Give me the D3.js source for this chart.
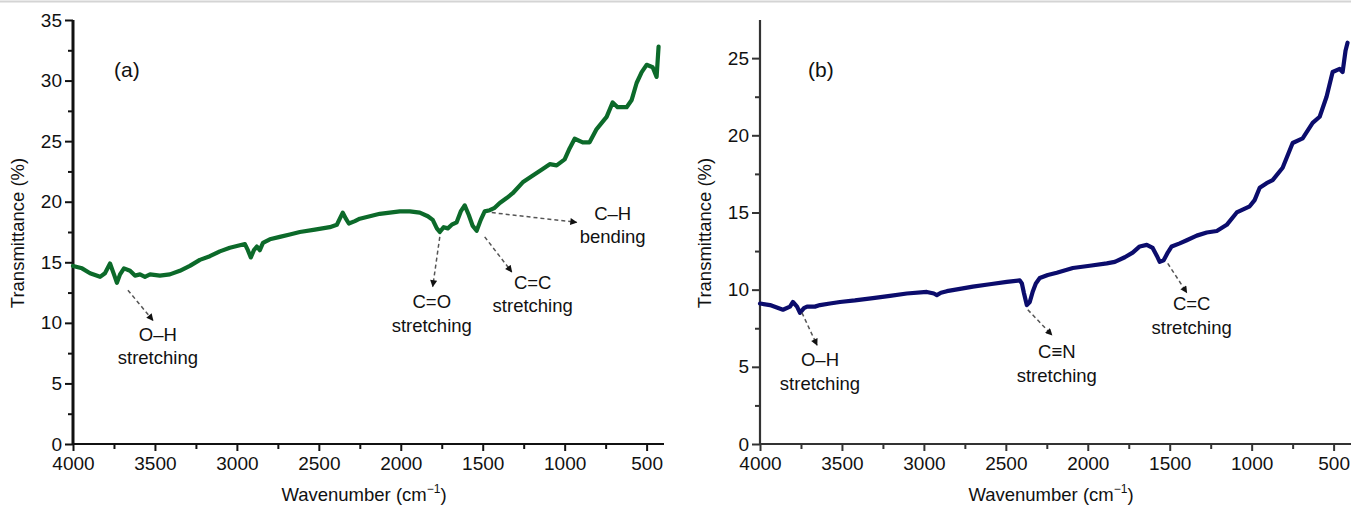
<!DOCTYPE html>
<html><head><meta charset="utf-8">
<script src="https://cdn.jsdelivr.net/npm/d3@7"></script>
<style>
html,body{margin:0;padding:0;background:#fff;}
svg{display:block;font-family:Arial,"Liberation Sans",Helvetica,sans-serif;}
</style></head>
<body><svg id="c" width="1351" height="508"></svg>
<script>
// ---- Data ----
const xTicks = [4000, 3500, 3000, 2500, 2000, 1500, 1000, 500];
const xMinorTicks = [3750, 3250, 2750, 2250, 1750, 1250, 750];
const yTicksA = [0, 5, 10, 15, 20, 25, 30, 35];
const yMinorA = [2.5, 7.5, 12.5, 17.5, 22.5, 27.5, 32.5];
const yTicksB = [0, 5, 10, 15, 20, 25];
const yMinorB = [2.5, 7.5, 12.5, 17.5, 22.5];

const wavenumberA = [4000,3945,3896,3835,3805,3774,3750,3732,3713,3689,3652,3622,3591,3561,3530,3470,3409,3348,3287,3226,3165,3104,3043,2982,2951,2933,2915,2896,2878,2860,2841,2799,2738,2677,2616,2524,2433,2390,2372,2354,2335,2317,2280,2250,2189,2128,2067,2006,1945,1884,1835,1805,1780,1762,1738,1713,1689,1659,1634,1610,1585,1561,1537,1512,1488,1457,1427,1396,1354,1317,1256,1201,1134,1091,1049,1000,970,939,890,848,805,774,744,707,677,622,591,561,530,500,463,439,427];
const transmittanceA = [14.7,14.5,14.1,13.8,14.1,14.9,14.0,13.3,14.0,14.5,14.3,13.9,14.0,13.8,14.0,13.9,14.0,14.3,14.7,15.2,15.5,15.9,16.2,16.4,16.5,16.0,15.4,16.0,16.3,16.0,16.6,16.9,17.1,17.3,17.5,17.7,17.9,18.1,18.6,19.1,18.6,18.2,18.4,18.6,18.8,19.0,19.1,19.2,19.2,19.1,18.8,18.5,17.8,17.5,17.9,17.8,18.1,18.3,19.2,19.7,18.9,18.0,17.6,18.5,19.2,19.3,19.5,19.9,20.3,20.7,21.6,22.1,22.7,23.1,23.0,23.5,24.4,25.2,24.9,24.9,26.0,26.5,27.0,28.2,27.8,27.8,28.4,29.8,30.7,31.3,31.1,30.3,32.8];

const wavenumberB = [4000,3939,3860,3817,3799,3774,3756,3732,3713,3665,3634,3573,3512,3421,3311,3207,3104,2982,2939,2921,2896,2860,2780,2701,2598,2494,2415,2402,2390,2372,2354,2335,2317,2293,2244,2189,2091,1988,1884,1835,1774,1726,1683,1640,1604,1579,1561,1537,1512,1488,1439,1396,1335,1274,1213,1152,1091,1012,982,951,909,872,811,750,689,628,585,543,506,463,445,427,415];
const transmittanceB = [9.1,9.0,8.7,8.9,9.2,8.9,8.5,8.8,8.9,8.9,9.0,9.1,9.2,9.3,9.45,9.6,9.75,9.85,9.75,9.65,9.8,9.9,10.05,10.2,10.35,10.5,10.6,10.4,9.8,9.0,9.2,9.9,10.4,10.75,10.95,11.1,11.4,11.55,11.7,11.8,12.1,12.4,12.8,12.9,12.7,12.2,11.8,11.9,12.4,12.8,13.0,13.2,13.5,13.7,13.8,14.2,15.0,15.4,15.8,16.6,16.9,17.1,17.9,19.5,19.8,20.8,21.2,22.5,24.1,24.3,24.1,25.5,26.0];

// annotations: arrow start/end and label position (data coordinates)
const annotLinesA = [["O–H","stretching"],["C=O","stretching"],["C=C","stretching"],["C–H","bending"]];
const annotFromWA = [3665, 1762, 1488, 1445];
const annotFromTA = [12.7, 17.1, 17.1, 19.1];
const annotToWA = [3512, 1805, 1323, 927];
const annotToTA = [10.2, 13.0, 14.2, 18.3];
const annotLabelWA = [3482, 1811, 1195, 707];
const annotLabelTA = [9.0, 11.7, 13.3, 19.0];

const annotLinesB = [["O–H","stretching"],["C≡N","stretching"],["C=C","stretching"]];
const annotFromWB = [3744, 2366, 1512];
const annotFromTB = [8.5, 8.7, 11.7];
const annotToWB = [3652, 2219, 1396];
const annotToTB = [6.4, 7.06, 9.8];
const annotLabelWB = [3634, 2189, 1366];
const annotLabelTB = [5.44, 5.96, 9.04];

// ---- Drawing ----
const svg = d3.select("#c");
svg.append("line").attr("x1",0).attr("x2",1351).attr("y1",1.5).attr("y2",1.5)
  .attr("stroke","#d4d4d4").attr("stroke-width",2);

const defs = svg.append("defs");
defs.append("marker").attr("id","ah").attr("viewBox","0 0 10 10")
  .attr("refX",9).attr("refY",5).attr("markerWidth",9).attr("markerHeight",7)
  .attr("markerUnits","userSpaceOnUse").attr("orient","auto")
  .append("path").attr("d","M0,0 L10,5 L0,10 z").attr("fill","#111");

function panel(opt){
  const g = svg.append("g");
  const x = d3.scaleLinear().domain([4000,400]).range([opt.x0, opt.x1]);
  const y = d3.scaleLinear().domain([0, opt.ymax]).range([444, 20]);

  // minor ticks
  const xm = g.append("g").attr("transform","translate(0,444)")
    .call(d3.axisBottom(x).tickValues(xMinorTicks).tickSize(5).tickFormat(""));
  const ym = g.append("g").attr("transform",`translate(${opt.x0},0)`)
    .call(d3.axisLeft(y).tickValues(opt.yMinor).tickSize(5).tickFormat(""));
  const xa = g.append("g").attr("transform","translate(0,444)")
    .call(d3.axisBottom(x).tickValues(xTicks).tickSize(7).tickPadding(6).tickFormat(d3.format("d")));
  const ya = g.append("g").attr("transform",`translate(${opt.x0},0)`)
    .call(d3.axisLeft(y).tickValues(opt.yTicks).tickSize(8).tickPadding(3).tickFormat(d3.format("d")));
  [xm,ym,xa,ya].forEach(a=>{
    a.select(".domain").remove();
    a.selectAll(".tick line").attr("stroke",opt.axisColor).attr("stroke-width",2);
    a.selectAll("text").attr("font-size",19).attr("fill","#111")
      .attr("font-family","Arial, 'Liberation Sans', sans-serif");
  });
  // axis lines
  g.append("line").attr("x1",opt.x0).attr("x2",opt.x1+1).attr("y1",444).attr("y2",444)
    .attr("stroke",opt.axisColor).attr("stroke-width",2.2);
  g.append("line").attr("x1",opt.x0).attr("x2",opt.x0).attr("y1",20).attr("y2",445)
    .attr("stroke",opt.axisColor).attr("stroke-width",opt.yAxisW);

  // titles
  g.append("text").attr("transform",`translate(${opt.ylabX},${233}) rotate(-90)`)
    .attr("text-anchor","middle").attr("dominant-baseline","middle")
    .attr("font-size",18.5).attr("fill","#111").text("Transmittance (%)");
  const xt = g.append("text").attr("x",(opt.x0+opt.x1)/2 - 4).attr("y",501)
    .attr("text-anchor","middle").attr("font-size",18.5).attr("fill","#111");
  xt.append("tspan").text("Wavenumber (cm");
  xt.append("tspan").attr("dy",-8).attr("font-size",12).text("−1");
  xt.append("tspan").attr("dy",8).text(")");
  g.append("text").attr("x",opt.tagX).attr("y",77).attr("font-size",21).attr("fill","#111").text(opt.tag);

  // line
  const data = opt.w.map((w,i)=>[w,opt.t[i]]);
  g.append("path").datum(data)
    .attr("fill","none").attr("stroke",opt.color).attr("stroke-width",4.2)
    .attr("stroke-linejoin","round").attr("stroke-linecap","round")
    .attr("d", d3.line().x(d=>x(d[0])).y(d=>y(d[1])));

  // annotations
  opt.lines.forEach((lines,i)=>{
    g.append("line")
      .attr("x1",x(opt.fw[i])).attr("y1",y(opt.ft[i]))
      .attr("x2",x(opt.tw[i])).attr("y2",y(opt.tt[i]))
      .attr("stroke","#555").attr("stroke-width",1.5).attr("stroke-dasharray","4,3")
      .attr("marker-end","url(#ah)");
    const t = g.append("text").attr("text-anchor","middle").attr("font-size",18.5).attr("fill","#111");
    lines.forEach((s,j)=>{
      t.append("tspan").attr("x",x(opt.lw[i])).attr("y",y(opt.lt[i]) + 6 + j*23.5).text(s);
    });
  });
}

panel({x0:73, x1:663, ymax:35, yTicks:yTicksA, yMinor:yMinorA, axisColor:"#111", yAxisW:3,
  ylabX:19, tag:"(a)", tagX:114, color:"#0c6a2a", w:wavenumberA, t:transmittanceA,
  lines:annotLinesA, fw:annotFromWA, ft:annotFromTA, tw:annotToWA, tt:annotToTA, lw:annotLabelWA, lt:annotLabelTA});
panel({x0:760, x1:1350, ymax:27.47, yTicks:yTicksB, yMinor:yMinorB, axisColor:"#333", yAxisW:2.2,
  ylabX:706, tag:"(b)", tagX:808, color:"#0b0c6c", w:wavenumberB, t:transmittanceB,
  lines:annotLinesB, fw:annotFromWB, ft:annotFromTB, tw:annotToWB, tt:annotToTB, lw:annotLabelWB, lt:annotLabelTB});
</script></body></html>
